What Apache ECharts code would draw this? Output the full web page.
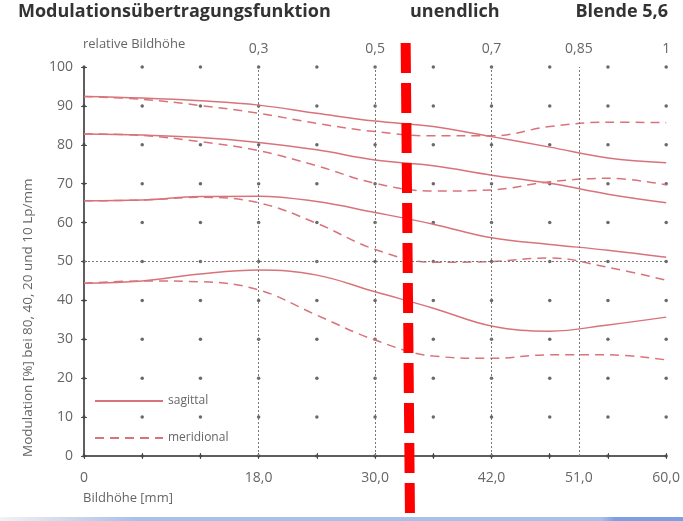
<!DOCTYPE html>
<html>
<head>
<meta charset="utf-8">
<script src="https://cdn.jsdelivr.net/npm/echarts@6/dist/echarts.min.js"></script>
<style>
  html, body { margin: 0; padding: 0; background: #fff; }
  #chart { width: 683px; height: 521px; }
</style>
</head>
<body>
<div id="chart"></div>
<script>
// Bildhöhe in mm
const bildhoehe = [0, 6, 12, 18, 24, 30, 36, 42, 48, 54, 60];

// Modulation in % (10, 20, 40, 80 Lp/mm)
const sag10 = [92.4, 92.0, 91.3, 90.2, 88.1, 86.1, 84.7, 82.1, 79.4, 76.6, 75.4];
const mer10 = [92.4, 91.7, 90.1, 88.1, 85.5, 83.4, 82.3, 82.3, 84.7, 85.8, 85.7];
const sag20 = [82.8, 82.5, 81.9, 80.6, 78.7, 76.1, 74.6, 72.2, 70.1, 67.3, 65.1];
const mer20 = [82.8, 82.4, 80.8, 78.5, 74.6, 70.1, 68.1, 68.4, 70.5, 71.4, 69.7];
const sag40 = [65.6, 65.8, 66.7, 66.8, 65.4, 62.6, 59.6, 56.1, 54.4, 52.9, 51.1];
const mer40 = [65.6, 65.8, 66.5, 65.1, 59.8, 53.1, 49.8, 50.0, 50.9, 48.5, 45.2];
const sag80 = [44.4, 45.0, 46.8, 47.8, 46.5, 42.2, 38.0, 33.4, 32.1, 33.7, 35.7];
const mer80 = [44.4, 45.0, 44.8, 42.7, 36.2, 29.8, 25.7, 25.1, 26.0, 26.0, 24.7];

// Achsen
const xTicks = [0, 6, 12, 18, 24, 30, 36, 42, 48, 54, 60];
const yTicks = [0, 10, 20, 30, 40, 50, 60, 70, 80, 90, 100];
const xLabelValues = [0, 18, 30, 42, 51, 60];
const relPositions = [18, 30, 42, 51, 60];
const relLabels = ['0,3', '0,5', '0,7', '0,85', '1'];

// rote Markierung (mm, oben / unten)
const markerTop = 33.15;
const markerBottom = 33.6;

const curveColor = '#d9737b';
const axisColor = '#555';
const textColor = '#666';
const font = 'Open Sans';

const pairs = (ys) => bildhoehe.map((x, i) => [x, ys[i]]);

const dots = [];
xTicks.forEach((x) => yTicks.forEach((y) => dots.push([x, y])));

const curve = (name, ys, dashed) => ({
  name: name,
  type: 'line',
  smooth: 0.4,
  symbol: 'none',
  data: pairs(ys),
  lineStyle: {
    color: curveColor,
    width: 1.5,
    type: dashed ? [9, 6] : 'solid',
  },
  itemStyle: { color: curveColor },
  z: 3,
});

const chart = echarts.init(document.getElementById('chart'));
chart.setOption({
  animation: false,
  grid: { left: 84, right: 15, top: 67, bottom: 65 },
  legend: {
    data: ['sagittal', 'meridional'],
    orient: 'vertical',
    left: 89,
    top: 390,
    itemWidth: 68,
    itemHeight: 14,
    itemGap: 25,
    itemStyle: { opacity: 0 },
    textStyle: { color: textColor, fontSize: 12, fontFamily: font },
  },
  xAxis: [
    {
      type: 'value',
      min: 0,
      max: 60,
      position: 'bottom',
      axisLine: { lineStyle: { color: axisColor, width: 1.5 } },
      axisTick: { customValues: xTicks, length: 3, lineStyle: { color: axisColor } },
      axisLabel: {
        customValues: xLabelValues,
        color: textColor,
        fontSize: 14,
        fontFamily: font,
        margin: 15,
        formatter: (v) => (v === 0 ? '0' : v.toFixed(1).replace('.', ',')),
      },
      splitLine: { show: false },
    },
    {
      type: 'value',
      min: 0,
      max: 60,
      position: 'top',
      axisLine: { lineStyle: { color: axisColor, width: 1.5 } },
      axisTick: { customValues: xTicks, length: 3, lineStyle: { color: axisColor } },
      axisLabel: {
        customValues: relPositions,
        color: textColor,
        fontSize: 14,
        fontFamily: font,
        margin: 11,
        formatter: (v) => relLabels[relPositions.indexOf(v)],
      },
      splitLine: { show: false },
    },
  ],
  yAxis: [
    {
      type: 'value',
      min: 0,
      max: 100,
      interval: 10,
      axisLine: { show: true, lineStyle: { color: axisColor, width: 1.5 } },
      axisTick: { show: true, length: 3, lineStyle: { color: axisColor } },
      axisLabel: { color: textColor, fontSize: 14, fontFamily: font, margin: 11 },
      splitLine: { show: false },
    },
    {
      type: 'value',
      min: 0,
      max: 100,
      interval: 10,
      position: 'right',
      axisLine: { show: true, lineStyle: { color: axisColor, width: 1.5 } },
      axisTick: { show: true, length: 3, lineStyle: { color: axisColor } },
      axisLabel: { show: false },
      splitLine: { show: false },
    },
  ],
  series: [
    {
      type: 'scatter',
      data: dots,
      symbolSize: 3.5,
      itemStyle: { color: '#444' },
      silent: true,
      z: 1,
      markLine: {
        silent: true,
        symbol: 'none',
        label: { show: false },
        lineStyle: { color: '#777', type: [2, 2], width: 1 },
        data: relPositions.slice(0, 4).map((v) => ({ xAxis: v })).concat([{ yAxis: 50 }]),
      },
    },
    curve('sagittal', sag10, false),
    curve('meridional', mer10, true),
    curve('sagittal', sag20, false),
    curve('meridional', mer20, true),
    curve('sagittal', sag40, false),
    curve('meridional', mer40, true),
    curve('sagittal', sag80, false),
    curve('meridional', mer80, true),
  ],
});

const topX = chart.convertToPixel({ xAxisIndex: 0 }, markerTop);
const bottomX = chart.convertToPixel({ xAxisIndex: 0 }, markerBottom);

chart.setOption({
  graphic: [
    {
      type: 'text',
      left: 18,
      top: 3,
      style: { text: 'Modulationsübertragungsfunktion', fill: '#333', font: 'bold 18px "Open Sans"' },
    },
    {
      type: 'text',
      left: 410,
      top: 3,
      style: { text: 'unendlich', fill: '#333', font: 'bold 18px "Open Sans"' },
    },
    {
      type: 'text',
      right: 15,
      top: 3,
      style: { text: 'Blende 5,6', fill: '#333', font: 'bold 18px "Open Sans"' },
    },
    {
      type: 'text',
      left: 83,
      top: 38,
      style: { text: 'relative Bildhöhe', fill: textColor, font: '13px "Open Sans"' },
    },
    {
      type: 'text',
      left: 83,
      top: 492,
      style: { text: 'Bildhöhe [mm]', fill: textColor, font: '13px "Open Sans"' },
    },
    {
      type: 'text',
      x: 28,
      y: 457,
      rotation: Math.PI / 2,
      style: {
        text: 'Modulation [%] bei 80, 40, 20 und 10 Lp/mm',
        fill: textColor,
        font: '13.5px "Open Sans"',
        align: 'left',
        verticalAlign: 'middle',
      },
    },
    {
      type: 'rect',
      shape: { x: 0, y: 517, width: 683, height: 4 },
      style: {
        fill: new echarts.graphic.LinearGradient(0, 0, 1, 0, [
          { offset: 0, color: '#f2f2f2' },
          { offset: 0.2, color: '#a9c0ea' },
          { offset: 0.88, color: '#a9c0ea' },
          { offset: 0.9, color: '#7f9fe3' },
          { offset: 1, color: '#7f9fe3' },
        ]),
      },
      z: 10,
    },
    {
      type: 'line',
      shape: { x1: topX, y1: 43, x2: bottomX, y2: 521 },
      style: { stroke: '#ff0000', lineWidth: 10, lineDash: [30, 10] },
      z: 20,
    },
  ],
});
</script>
</body>
</html>
